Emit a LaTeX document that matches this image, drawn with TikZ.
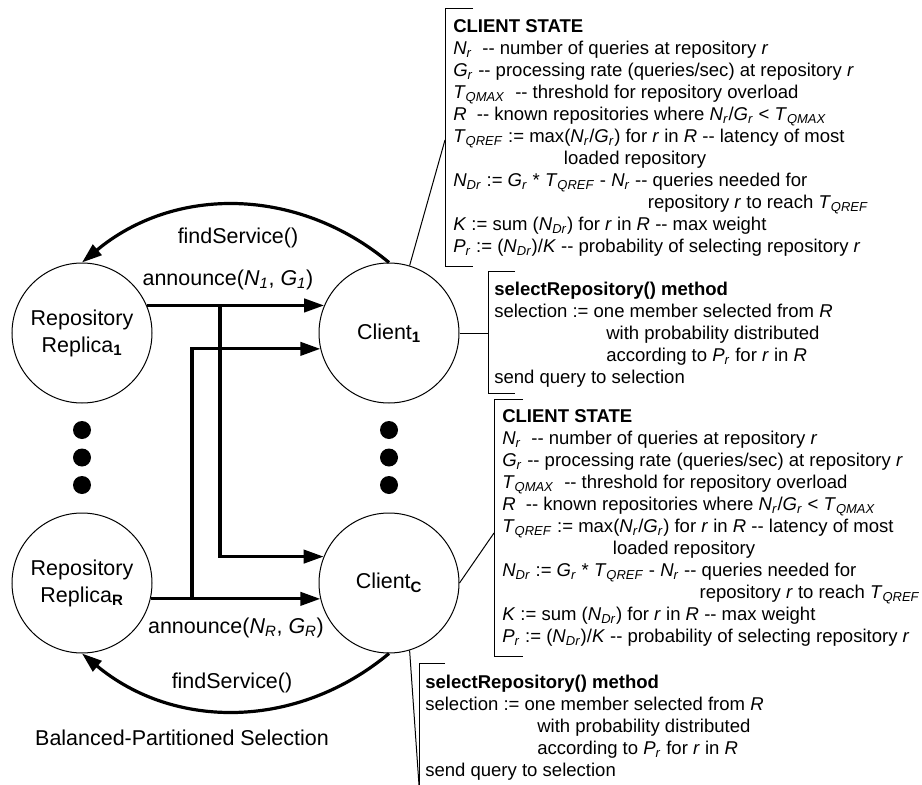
\documentclass[tikz,border=0pt]{standalone}
\usepackage{fontspec}
\setmainfont{Liberation Sans}
\usetikzlibrary{arrows.meta}
\newcommand{\myiv}[2]{\textit{#1}\textsubscript{\textit{#2}}}
\newcommand{\mydash}{\mbox{-}\mbox{-}}
\newcommand{\mybsub}[1]{\textsubscript{\textbf{#1}}}
\begin{document}
\begin{tikzpicture}[x=0.75pt,y=-0.75pt,
  state/.style={circle, draw, line width=0.75pt, minimum size=105pt, inner sep=0pt, align=center, font=\fontsize{16.1pt}{20.25pt}\selectfont},
  lbl/.style={anchor=base, inner sep=0pt, font=\fontsize{16.1pt}{20pt}\selectfont},
  anno/.style={anchor=north west, inner sep=0pt, align=left, font=\fontsize{13.9pt}{16.5pt}\selectfont},
  dotn/.style={circle, fill, inner sep=0pt, minimum size=13.5pt},
  conn/.style={line width=2.4pt, -{Triangle[length=15pt,width=10pt]}},
  callout/.style={line width=0.75pt}
]
\useasboundingbox (0,0) rectangle (922,785);

% main nodes
\node[state] (r1) at (82,333) {Repository\\Replica\mybsub{1}};
\node[state] (c1) at (389,333) {Client\mybsub{1}};
\node[state] (rR) at (82,583) {Repository\\Replica\mybsub{R}};
\node[state] (cC) at (389,583) {Client\mybsub{C}};

% ellipsis dots
\node[dotn] (dl1) at (82,430) {};
\node[dotn] (dl2) at (82,457.5) {};
\node[dotn] (dl3) at (82,485) {};
\node[dotn] (dr1) at (389,430) {};
\node[dotn] (dr2) at (389,457.5) {};
\node[dotn] (dr3) at (389,485) {};

% announce connectors
\coordinate (x220) at (220,0);
\coordinate (x192) at (192,0);
\coordinate (j1) at (r1.23 -| x220);
\coordinate (j2) at (rR.-13 -| x192);
\draw[conn] (r1.23) -- (c1.157);
\draw[conn] (j1) |- (cC.158);
\draw[conn] (rR.-13) -- (cC.193);
\draw[conn] (j2) |- (c1.193);

% findService arcs
\draw[conn] (c1.north) .. controls (297,186) and (174,186) .. (r1.north);
\draw[conn] (cC.south) .. controls (297,730) and (174,730) .. (rR.south);

% labels
\node[lbl] (fsTop) at (238,243) {findService()};
\node[lbl] (an1) at (228,285) {announce(\myiv{N}{1}, \myiv{G}{1})};
\node[lbl] (anR) at (236,633) {announce(\myiv{N}{R}, \myiv{G}{R})};
\node[lbl] (fsBot) at (232,688) {findService()};
\node[lbl] (title) at (182,745) {Balanced-Partitioned Selection};

% brackets
\draw[callout] (473,8) -- (445,8) -- (445,266) -- (473,266);
\draw[callout] (515,271) -- (488,271) -- (488,393) -- (515,393);
\draw[callout] (523,399) -- (494,399) -- (494,656) -- (523,656);
\draw[callout] (445,663) -- (419,663) -- (419,790);

% callout lines
\coordinate (k1) at (445,140);
\coordinate (k2) at (488,333);
\coordinate (k3) at (494,533);
\coordinate (k4) at (419,785);
\draw[callout] (c1.73) -- (k1);
\draw[callout] (c1.east) -- (k2);
\draw[callout] (cC.east) -- (k3);
\draw[callout] (cC.-73) -- (k4);

% annotation blocks
\node[anno] (s1) at (453,16.7) {\rule{0pt}{12pt}\textbf{CLIENT STATE}\\
\myiv{N}{r}\ \ \mydash{} number of queries at repository \textit{r}\\
\myiv{G}{r} \mydash{} processing rate (queries/sec) at repository \textit{r}\\
\myiv{T}{QMAX}\ \ \mydash{} threshold for repository overload\\
\textit{R}\ \ \mydash{} known repositories where \myiv{N}{r}/\myiv{G}{r} < \myiv{T}{QMAX}\\
\myiv{T}{QREF} := max(\myiv{N}{r}/\myiv{G}{r}) for \textit{r} in \textit{R} \mydash{} latency of most\\
\hspace*{83pt}loaded repository\\
\myiv{N}{Dr} := \myiv{G}{r} * \myiv{T}{QREF} - \myiv{N}{r} \mydash{} queries needed for\\
\hspace*{146pt}repository \textit{r} to reach \myiv{T}{QREF}\\
\textit{K} := sum (\myiv{N}{Dr}) for \textit{r} in \textit{R} \mydash{} max weight\\
\myiv{P}{r} := (\myiv{N}{Dr})/\textit{K} \mydash{} probability of selecting repository \textit{r}};

\node[anno] (s2) at (494,279) {\rule{0pt}{12pt}\textbf{selectRepository() method}\\
selection := one member selected from \textit{R}\\
\hspace*{84pt}with probability distributed\\
\hspace*{84pt}according to \myiv{P}{r} for \textit{r} in \textit{R}\\
send query to selection};

\node[anno] (s3) at (502,406) {\rule{0pt}{12pt}\textbf{CLIENT STATE}\\
\myiv{N}{r}\ \ \mydash{} number of queries at repository \textit{r}\\
\myiv{G}{r} \mydash{} processing rate (queries/sec) at repository \textit{r}\\
\myiv{T}{QMAX}\ \ \mydash{} threshold for repository overload\\
\textit{R}\ \ \mydash{} known repositories where \myiv{N}{r}/\myiv{G}{r} < \myiv{T}{QMAX}\\
\myiv{T}{QREF} := max(\myiv{N}{r}/\myiv{G}{r}) for \textit{r} in \textit{R} \mydash{} latency of most\\
\hspace*{83pt}loaded repository\\
\myiv{N}{Dr} := \myiv{G}{r} * \myiv{T}{QREF} - \myiv{N}{r} \mydash{} queries needed for\\
\hspace*{148pt}repository \textit{r} to reach \myiv{T}{QREF}\\
\textit{K} := sum (\myiv{N}{Dr}) for \textit{r} in \textit{R} \mydash{} max weight\\
\myiv{P}{r} := (\myiv{N}{Dr})/\textit{K} \mydash{} probability of selecting repository \textit{r}};

\node[anno] (s4) at (425,672) {\rule{0pt}{12pt}\textbf{selectRepository() method}\\
selection := one member selected from \textit{R}\\
\hspace*{84pt}with probability distributed\\
\hspace*{84pt}according to \myiv{P}{r} for \textit{r} in \textit{R}\\
send query to selection};
\end{tikzpicture}
\end{document}
